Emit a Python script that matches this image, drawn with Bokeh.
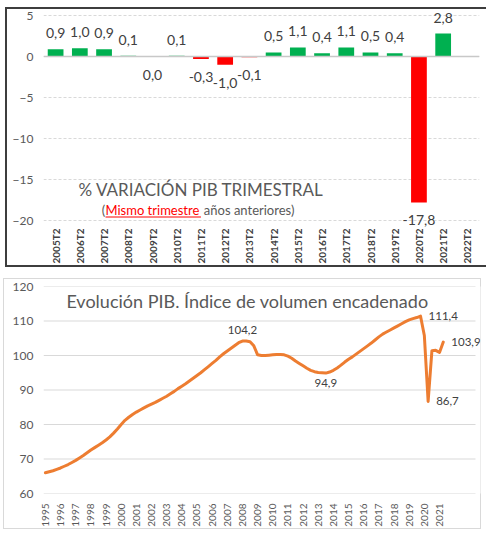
import math
from bokeh.plotting import figure
from bokeh.models import ColumnDataSource, Range1d, FixedTicker, Span, Spacer
from bokeh.layouts import column, row
from bokeh.embed import file_html
from bokeh.resources import INLINE
from bokeh.core.properties import value

FONT = "Lato"

# ---------------- Top chart data ----------------
trimestres = ["2005T2", "2006T2", "2007T2", "2008T2", "2009T2", "2010T2",
              "2011T2", "2012T2", "2013T2", "2014T2", "2015T2", "2016T2",
              "2017T2", "2018T2", "2019T2", "2020T2", "2021T2", "2022T2"]
variacion = [0.9, 1.0, 0.9, 0.1, 0.0, 0.1, -0.3, -1.0, -0.1, 0.5, 1.1, 0.4,
             1.1, 0.5, 0.4, -17.8, 2.8, None]
y_ticks_top = [-20, -15, -10, -5, 0, 5]

# ---------------- Bottom chart data ----------------
anios = list(range(1995, 2022))
pib_indice = [
    66.0, 66.3, 66.6, 67.0,      # 1995
    67.4, 67.9, 68.4, 69.0,      # 1996
    69.6, 70.3, 71.0, 71.8,      # 1997
    72.6, 73.3, 74.0, 74.7,      # 1998
    75.5, 76.4, 77.5, 78.7,      # 1999
    80.0, 81.2, 82.1, 82.9,      # 2000
    83.6, 84.2, 84.8, 85.4,      # 2001
    85.9, 86.4, 87.0, 87.6,      # 2002
    88.2, 88.9, 89.6, 90.4,      # 2003
    91.1, 91.8, 92.6, 93.4,      # 2004
    94.2, 95.0, 95.9, 96.8,      # 2005
    97.7, 98.6, 99.6, 100.5,     # 2006
    101.3, 102.1, 102.9, 103.7,  # 2007
    104.2, 104.2, 104.0, 102.8,  # 2008
    100.2, 100.0, 100.0, 100.1,  # 2009
    100.2, 100.3, 100.3, 100.2,  # 2010
    99.8, 99.2, 98.4, 97.7,      # 2011
    97.0, 96.3, 95.7, 95.3,      # 2012
    95.1, 95.0, 94.9, 95.2,      # 2013
    95.7, 96.4, 97.2, 98.1,      # 2014
    98.9, 99.6, 100.4, 101.2,    # 2015
    102.0, 102.8, 103.6, 104.5,  # 2016
    105.4, 106.2, 106.8, 107.4,  # 2017
    108.0, 108.6, 109.2, 109.8,  # 2018
    110.3, 110.7, 111.0, 111.4,  # 2019
    105.8, 86.7, 101.4, 101.5,   # 2020
    100.9, 103.9,                # 2021
]
# annotated points: (year, quarter, placement)
anotaciones = [(2008, 1, "above"), (2013, 3, "below"), (2019, 4, "right"),
               (2020, 2, "right"), (2021, 2, "right")]
y_ticks_bottom = [60, 70, 80, 90, 100, 110, 120]
n_categorias = 114  # quarterly category slots on the Excel axis (1995T1..2023T2)


def fmt(v):
    return f"{v:.1f}".replace(".", ",")


# ================= TOP FIGURE =================
p1 = figure(x_range=trimestres, y_range=Range1d(-20.85, 5.61), width=481,
            height=260, output_backend="svg", toolbar_location=None,
            min_border_left=38, min_border_right=7, min_border_top=3,
            min_border_bottom=40)
p1.outline_line_color = None
p1.background_fill_color = "white"
p1.border_fill_alpha = 0
p1.styles = {"box-shadow": "inset 2px 2px 0 0 #3d3d3d, inset 0 -2px 0 0 #3d3d3d"}

cats = [c for c, v in zip(trimestres, variacion) if v is not None]
vals = [v for v in variacion if v is not None]
src1 = ColumnDataSource(dict(
    x=cats, top=vals,
    color=["#00B050" if v > 0 else "#FF0000" for v in vals],
    lbl=[fmt(v) for v in vals],
    off=[-16 if v > 0 else 18 for v in vals],
))

p1.ygrid.ticker = FixedTicker(ticks=y_ticks_top)
p1.ygrid.grid_line_color = "#d9d9d9"
p1.ygrid.grid_line_dash = "3 2"
p1.xgrid.grid_line_color = None

p1.vbar(x="x", top="top", bottom=0, width=0.65, fill_color="color",
        line_color=None, source=src1)
p1.add_layout(Span(location=0, dimension="width", line_color="#c8c8c8",
                   line_width=1.5))
p1.text(x="x", y="top", text="lbl", y_offset="off", text_align="center",
        text_baseline="middle", text_font=value(FONT), text_font_size="14px",
        text_color="#404040", source=src1)

p1.yaxis.ticker = FixedTicker(ticks=y_ticks_top)
p1.yaxis.axis_line_color = None
p1.yaxis.major_tick_line_color = None
p1.yaxis.minor_tick_line_color = None
p1.yaxis.major_tick_out = 0
p1.yaxis.major_label_standoff = 10
p1.yaxis.major_label_text_font = FONT
p1.yaxis.major_label_text_font_size = "12px"
p1.yaxis.major_label_text_color = "#595959"

p1.xaxis.axis_line_color = None
p1.xaxis.major_tick_line_color = None
p1.xaxis.minor_tick_line_color = None
p1.xaxis.major_tick_out = 0
p1.xaxis.major_label_orientation = math.pi / 2
p1.xaxis.major_label_standoff = 1
p1.xaxis.major_label_text_font = FONT
p1.xaxis.major_label_text_font_style = "bold"
p1.xaxis.major_label_text_font_size = "10px"
p1.xaxis.major_label_text_color = "#404040"

p1.text(x=[1.45], y=[-16.22], text=["% VARIACIÓN PIB TRIMESTRAL"],
        text_font=value(FONT), text_font_size="17px", text_color="#595959",
        text_align="left", text_baseline="middle")
p1.text(x=[2.40], y=[-18.66], text=["("], text_font=value(FONT),
        text_font_size="13px", text_color="#595959",
        text_align="left", text_baseline="middle")
p1.text(x=[2.56], y=[-18.66], text=["Mismo trimestre"], text_font=value(FONT),
        text_font_size="13px", text_color="#FF0000",
        text_align="left", text_baseline="middle")
p1.text(x=[6.62], y=[-18.66], text=["años anteriores)"], text_font=value(FONT),
        text_font_size="13px", text_color="#595959",
        text_align="left", text_baseline="middle")
p1.segment(x0=[2.56], y0=[-19.57], x1=[6.50], y1=[-19.57], line_color="#FF0000",
           line_width=1)

# ================= BOTTOM FIGURE =================
t = [1995 + i / 4 for i in range(len(pib_indice))]
x_start = 1995 - 0.125
x_area_end = x_start + n_categorias / 4
px_per_year = 432 / (n_categorias / 4)
x_end = x_start + 437 / px_per_year  # a few px of room for the right-side labels

p2 = figure(x_range=Range1d(x_start, x_end), y_range=Range1d(60, 120),
            width=478, height=251, output_backend="svg", toolbar_location=None,
            min_border_left=40, min_border_right=1, min_border_top=8,
            min_border_bottom=34)
p2.outline_line_color = None
p2.border_fill_alpha = 0
p2.styles = {"box-shadow": "inset 0 0 0 1px #d9d9d9"}

p2.xgrid.grid_line_color = None
p2.ygrid.grid_line_color = None
p2.segment(x0=[x_start] * len(y_ticks_bottom), y0=y_ticks_bottom,
           x1=[x_area_end] * len(y_ticks_bottom), y1=y_ticks_bottom,
           line_color="#d9d9d9", line_width=1)

p2.line(x=t, y=pib_indice, line_color="#ED7D31", line_width=3,
        line_join="round", line_cap="round")

ann_c = dict(x=[], y=[], lbl=[], off=[])
ann_r = dict(x=[], y=[], lbl=[])
for (yr, q, pos) in anotaciones:
    idx = (yr - 1995) * 4 + (q - 1)
    v = pib_indice[idx]
    if pos == "right":
        ann_r["x"].append(t[idx]); ann_r["y"].append(v); ann_r["lbl"].append(fmt(v))
    else:
        ann_c["x"].append(t[idx]); ann_c["y"].append(v); ann_c["lbl"].append(fmt(v))
        ann_c["off"].append(-11 if pos == "above" else 10)

p2.text(x="x", y="y", text="lbl", y_offset="off", text_align="center",
        text_baseline="middle", text_font=value(FONT), text_font_size="11.5px",
        text_color="#404040", source=ColumnDataSource(ann_c))
p2.text(x="x", y="y", text="lbl", x_offset=8, text_align="left",
        text_baseline="middle", text_font=value(FONT), text_font_size="11.5px",
        text_color="#404040", source=ColumnDataSource(ann_r))

p2.yaxis.ticker = FixedTicker(ticks=y_ticks_bottom)
p2.yaxis.axis_line_color = None
p2.yaxis.major_tick_line_color = None
p2.yaxis.minor_tick_line_color = None
p2.yaxis.major_tick_out = 0
p2.yaxis.major_label_standoff = 10
p2.yaxis.major_label_text_font = FONT
p2.yaxis.major_label_text_font_size = "12px"
p2.yaxis.major_label_text_color = "#595959"

p2.xaxis.ticker = FixedTicker(ticks=anios)
p2.xaxis.axis_line_color = None
p2.xaxis.major_tick_line_color = None
p2.xaxis.minor_tick_line_color = None
p2.xaxis.major_tick_out = 0
p2.xaxis.major_label_orientation = math.pi / 2
p2.xaxis.major_label_standoff = 10
p2.xaxis.major_label_text_font = FONT
p2.xaxis.major_label_text_font_size = "10px"
p2.xaxis.major_label_text_color = "#595959"

p2.text(x=[2008.33], y=[115.7],
        text=["Evolución PIB. Índice de volumen encadenado"],
        text_font=value(FONT), text_font_size="18px", text_color="#595959",
        text_align="center", text_baseline="middle")

layout = column(
    Spacer(height=7),
    row(Spacer(width=5), p1, spacing=0),
    Spacer(height=11),
    row(Spacer(width=3), p2, spacing=0),
    spacing=0,
)
open("out.html", "w").write(file_html(layout, INLINE))
